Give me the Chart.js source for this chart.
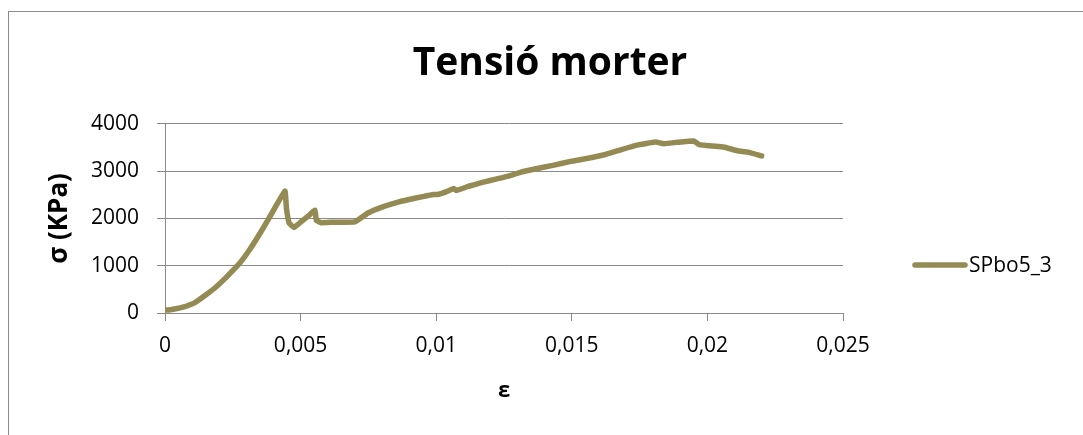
<!DOCTYPE html>
<html>
<head>
<meta charset="utf-8">
<script src="https://cdn.jsdelivr.net/npm/chart.js@4"></script>
<style>
  html, body { margin: 0; padding: 0; background: #fff; }
  #wrap { width: 1083px; height: 435px; position: relative; }
</style>
</head>
<body>
<div id="wrap"><canvas id="grafic"></canvas></div>
<script>
// deformació (ε) i tensió (kPa) de la proveta SPbo5_3
const deformacio = [
  0, 0.0002, 0.0004, 0.0007, 0.0011, 0.0015, 0.0019, 0.0023, 0.00275, 0.0031,
  0.0035, 0.0039, 0.00442, 0.00448, 0.00458, 0.00476, 0.005, 0.0053, 0.00553, 0.00558,
  0.00575, 0.0062, 0.007, 0.0075, 0.008, 0.0085, 0.009, 0.0095, 0.0099, 0.0101,
  0.0104, 0.01065, 0.01075, 0.0112, 0.0117, 0.0122, 0.0127, 0.0131, 0.0136, 0.0143,
  0.015, 0.0156, 0.0162, 0.0168, 0.0174, 0.0178, 0.0181, 0.0184, 0.0189, 0.0195,
  0.0197, 0.0202, 0.0206, 0.0211, 0.0215, 0.022
];
const tensio = [
  60, 70, 90, 130, 220, 380, 560, 780, 1050, 1320,
  1680, 2070, 2580, 2200, 1900, 1810, 1920, 2060, 2175, 1960,
  1910, 1920, 1925, 2120, 2240, 2330, 2400, 2460, 2505, 2510,
  2570, 2630, 2590, 2680, 2760, 2830, 2900, 2975, 3040, 3120,
  3210, 3270, 3345, 3450, 3550, 3590, 3615, 3580, 3610, 3635,
  3560, 3530, 3510, 3430, 3400, 3320
];
const nomSerie = "SPbo5_3";
const ticksX = [0, 0.005, 0.01, 0.015, 0.02, 0.025];
const ticksY = [0, 1000, 2000, 3000, 4000];

const colorSerie = "#948A54";
const colorEixos = "#8a8a8a";
const lletra = "'Open Sans', sans-serif";

// marc exterior i llegenda manual a la dreta
const marc = {
  id: "marc",
  beforeDraw(chart) {
    const ctx = chart.ctx;
    ctx.save();
    ctx.strokeStyle = "#8c8c8c";
    ctx.lineWidth = 1;
    ctx.strokeRect(8.5, 11.5, 1200, 600);
    ctx.restore();
  },
  afterDraw(chart) {
    const ctx = chart.ctx;
    const ds = chart.data.datasets[0];
    ctx.save();
    ctx.strokeStyle = ds.borderColor;
    ctx.lineWidth = 5.5;
    ctx.lineCap = "round";
    ctx.beginPath();
    ctx.moveTo(915, 265);
    ctx.lineTo(965, 265);
    ctx.stroke();
    ctx.fillStyle = "#000";
    ctx.font = "21px " + lletra;
    ctx.textBaseline = "middle";
    ctx.fillText(ds.label, 969, 266);
    ctx.restore();
  }
};

const punts = deformacio.map((e, i) => ({ x: e, y: tensio[i] }));
const coma = v => String(parseFloat(v.toFixed(4))).replace(".", ",");

new Chart(document.getElementById("grafic"), {
  type: "scatter",
  data: {
    datasets: [{
      label: nomSerie,
      data: punts,
      showLine: true,
      borderColor: colorSerie,
      backgroundColor: colorSerie,
      borderWidth: 5.5,
      borderCapStyle: "round",
      borderJoinStyle: "round",
      pointRadius: 0,
      tension: 0.1
    }]
  },
  options: {
    responsive: true,
    maintainAspectRatio: false,
    animation: false,
    layout: { padding: { left: 17, top: 0, right: 0, bottom: 0 } },
    plugins: {
      legend: { display: false },
      tooltip: { enabled: false },
      title: {
        display: true,
        text: "Tensió morter",
        color: "#000",
        font: { family: lletra, size: 39, weight: "bold" },
        padding: { top: 40, bottom: 37 }
      }
    },
    scales: {
      x: {
        type: "linear",
        min: 0,
        max: 0.025,
        afterBuildTicks: s => { s.ticks = ticksX.map(v => ({ value: v })); },
        afterFit: s => { s.height = 122; },
        ticks: {
          color: "#000",
          font: { family: lletra, size: 21 },
          padding: 12,
          callback: v => coma(v)
        },
        grid: { drawOnChartArea: false, tickLength: 8, color: colorEixos },
        border: { color: colorEixos },
        title: {
          display: true,
          text: "ε",
          color: "#000",
          font: { family: lletra, size: 22, weight: "bold" },
          padding: { top: 0, bottom: 31 }
        }
      },
      y: {
        min: 0,
        max: 4000,
        afterBuildTicks: s => { s.ticks = ticksY.map(v => ({ value: v })); },
        afterFit: s => { s.width = 148; },
        ticks: {
          color: "#000",
          font: { family: lletra, size: 21 },
          padding: 18,
          callback: v => String(v)
        },
        grid: { tickLength: 8, color: colorEixos },
        border: { color: colorEixos },
        title: {
          display: true,
          text: "σ (KPa)",
          color: "#000",
          font: { family: lletra, size: 26, weight: "bold" },
          padding: { top: 27, bottom: 0 }
        }
      },
      // eix buit a la dreta: reserva l'espai de la llegenda
      marge: {
        position: "right",
        afterFit: s => { s.width = 240; },
        ticks: { display: false },
        grid: { display: false },
        border: { display: false }
      }
    }
  },
  plugins: [marc]
});
</script>
</body>
</html>
